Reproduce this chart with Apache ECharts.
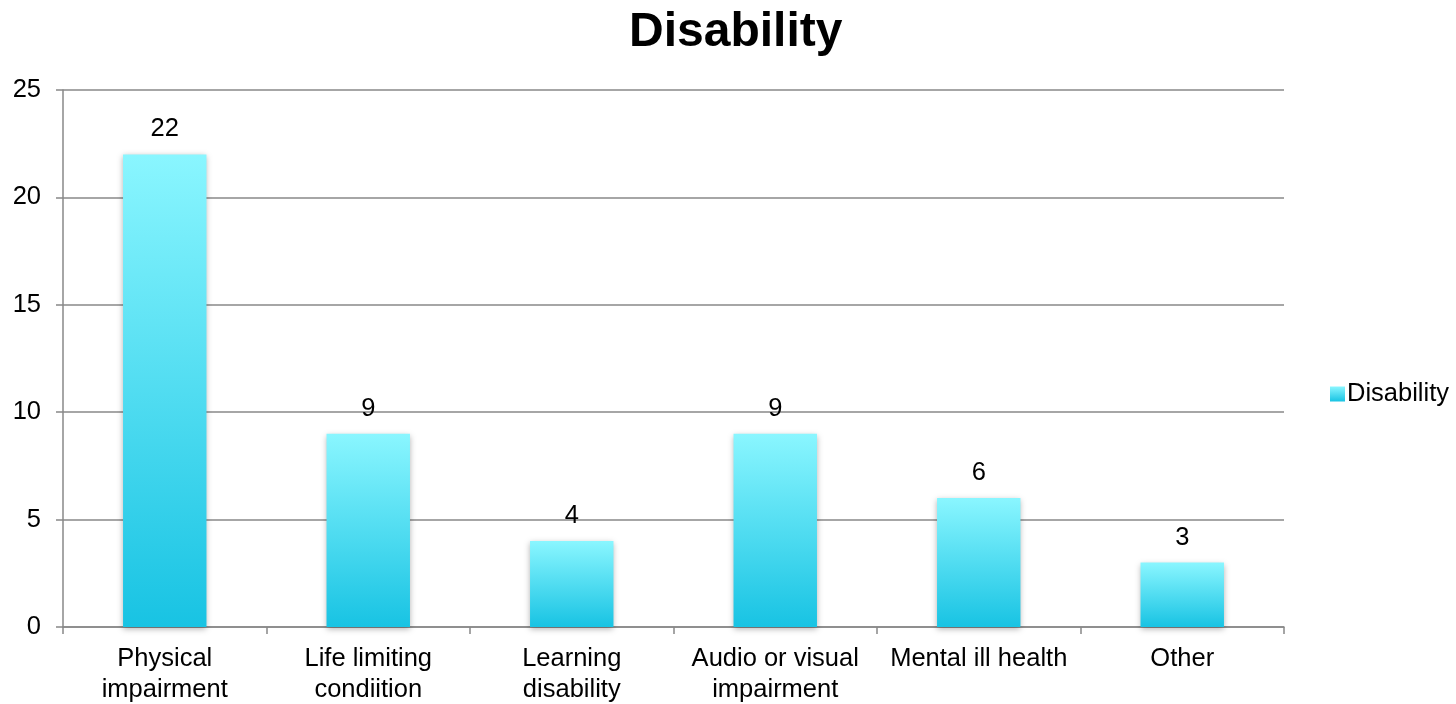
<!DOCTYPE html>
<html>
<head>
<meta charset="utf-8">
<script src="https://cdn.jsdelivr.net/npm/echarts@6/dist/echarts.min.js"></script>
<style>
  html, body { margin: 0; padding: 0; background: #fff; }
  #chart { width: 1456px; height: 704px; }
</style>
</head>
<body>
<div id="chart"></div>
<script>
// Disability counts by category
const categories = [
  'Physical\nimpairment',
  'Life limiting\ncondiition',
  'Learning\ndisability',
  'Audio or visual\nimpairment',
  'Mental ill health',
  'Other'
];
const values = [22, 9, 4, 9, 6, 3];
const seriesName = 'Disability';
const yTicks = { min: 0, max: 25, interval: 5 };

const FONT = '"Liberation Sans", Arial, sans-serif';

const barFill = new echarts.graphic.LinearGradient(0, 0, 0, 1, [
  { offset: 0, color: '#8AF6FF' },
  { offset: 1, color: '#18C3E3' }
]);

const chart = echarts.init(document.getElementById('chart'));
chart.setOption({
  animation: false,
  title: {
    text: 'Disability',
    left: 624,
    top: 4,
    textStyle: { fontFamily: FONT, fontSize: 48, fontWeight: 'bold', color: '#000' }
  },
  legend: {
    data: [seriesName],
    orient: 'vertical',
    left: 1325,
    top: 376,
    itemWidth: 15,
    itemHeight: 15,
    itemGap: 6,
    icon: 'rect',
    textStyle: { fontFamily: FONT, fontSize: 25.5, color: '#000', padding: [0, 0, 0, -3] }
  },
  grid: {
    left: 63, right: 172, top: 90, bottom: 77,
    containLabel: false,
    outerBoundsMode: 'none'
  },
  xAxis: {
    type: 'category',
    data: categories,
    axisLine: { lineStyle: { color: '#888', width: 1.5 } },
    axisTick: { show: true, length: 7, lineStyle: { color: '#888', width: 1.5 } },
    axisLabel: {
      fontFamily: FONT, fontSize: 25.5, color: '#000', lineHeight: 31, margin: 16,
      interval: 0
    }
  },
  yAxis: {
    type: 'value',
    min: yTicks.min,
    max: yTicks.max,
    interval: yTicks.interval,
    axisLine: { show: true, lineStyle: { color: '#888', width: 1.5 } },
    axisTick: { show: true, length: 7, lineStyle: { color: '#888', width: 1.5 } },
    splitLine: { lineStyle: { color: '#888', width: 1.5 } },
    axisLabel: { fontFamily: FONT, fontSize: 25.5, color: '#000', margin: 22 }
  },
  series: [{
    name: seriesName,
    type: 'bar',
    data: values,
    barWidth: '41%',
    itemStyle: {
      color: barFill,
      shadowColor: 'rgba(0,0,0,0.3)',
      shadowBlur: 6,
      shadowOffsetY: 2
    },
    label: {
      show: true,
      position: 'top',
      distance: 12,
      fontFamily: FONT,
      fontSize: 25.5,
      color: '#000'
    }
  }]
});
</script>
</body>
</html>
